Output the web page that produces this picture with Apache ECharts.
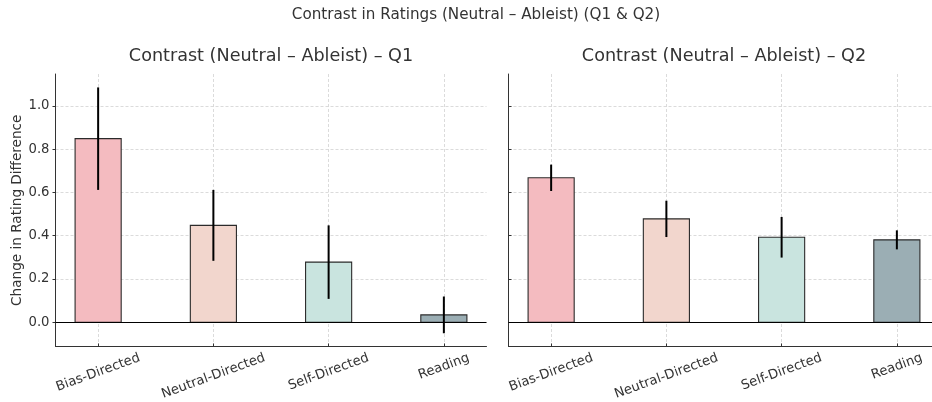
<!DOCTYPE html>
<html>
<head>
<meta charset="utf-8">
<script src="https://cdn.jsdelivr.net/npm/echarts@6/dist/echarts.min.js"></script>
<style>
  html, body { margin: 0; padding: 0; background: #ffffff; }
  #chart { width: 932px; height: 402px; }
</style>
</head>
<body>
<div id="chart"></div>
<script>
// Mean contrast (Neutral – Ableist) per prompt category, with error half-widths
const categories = ['Bias-Directed', 'Neutral-Directed', 'Self-Directed', 'Reading'];
const q1Means  = [0.849, 0.448, 0.278, 0.034];
const q1Errors = [0.237, 0.164, 0.170, 0.085];
const q2Means  = [0.668, 0.478, 0.393, 0.381];
const q2Errors = [0.061, 0.084, 0.094, 0.044];
const yTicks   = [0, 0.2, 0.4, 0.6, 0.8, 1.0];
const barColors = ['#F4BBC0', '#F2D6CD', '#C9E4DF', '#9BAEB4'];

const FONT = 'DejaVu Sans';
const TEXT = '#333333';
const LABEL_SIZE = 13.2;
const BAR_WIDTH = 0.4;
const ROT = 20 * Math.PI / 180;

// x extent of each panel in category units; the right panel runs past the page edge
const X_MIN = -0.37;
const X_MAX = 3.37;
const PANEL_W = 431;
const RIGHT_VISIBLE_W = 932 - 508.5;

// Measure each category label so rotated labels hang below the tick like centred, rotated text
const measureCtx = document.createElement('canvas').getContext('2d');
measureCtx.font = LABEL_SIZE + 'px "' + FONT + '"';
const labelRich = {};
categories.forEach(function (name, i) {
  const w = measureCtx.measureText(name).width;
  const shift = 0.171 * w;                       // vertical drop of the text centre
  labelRich['c' + i] = {
    fontFamily: FONT, fontSize: LABEL_SIZE, color: TEXT,
    padding: [2 * shift * Math.cos(ROT), 2 * shift * Math.sin(ROT), 0, 0]
  };
});

const catIndex = categories.map(function (_, i) { return i; });

function seriesData(means, errors) {
  return means.map(function (m, i) { return [i, m, errors[i]]; });
}

function renderBar(params, api) {
  const i = api.value(0);
  const v = api.value(1);
  const e = api.value(2);
  const a = api.coord([i - BAR_WIDTH / 2, v]);
  const b = api.coord([i + BAR_WIDTH / 2, 0]);
  const hi = api.coord([i, v + e]);
  const lo = api.coord([i, v - e]);
  return {
    type: 'group',
    children: [
      {
        type: 'rect',
        shape: { x: a[0], y: Math.min(a[1], b[1]), width: b[0] - a[0], height: Math.abs(b[1] - a[1]) },
        style: { fill: barColors[i], stroke: '#2b2b2b', lineWidth: 1.1 }
      },
      {
        type: 'line',
        shape: { x1: hi[0], y1: hi[1], x2: lo[0], y2: lo[1] },
        style: { stroke: '#000000', lineWidth: 2 }
      }
    ]
  };
}

const gridLine = { show: true, lineStyle: { type: [3, 2], color: '#d2d2d2', width: 0.8 } };

function xAxisFor(g, max) {
  return {
    type: 'value', gridIndex: g, min: X_MIN, max: max,
    axisLine: { show: true, onZero: false, lineStyle: { color: '#333333', width: 1 } },
    axisTick: { show: true, inside: true, length: 3, customValues: catIndex, lineStyle: { color: '#333333' } },
    axisLabel: {
      show: true, customValues: catIndex, rotate: 20, align: 'center', verticalAlign: 'middle',
      margin: 11, fontFamily: FONT, fontSize: LABEL_SIZE, color: TEXT,
      formatter: function (v) { const i = Math.round(v); return '{c' + i + '|' + categories[i] + '}'; },
      rich: labelRich
    },
    splitLine: gridLine
  };
}

function yAxisFor(g) {
  return {
    type: 'value', gridIndex: g, min: -0.112, max: 1.148,
    axisLine: { show: true, onZero: false, lineStyle: { color: '#333333', width: 1 } },
    axisTick: { show: true, inside: g === 1, length: 3, customValues: yTicks, lineStyle: { color: '#333333' } },
    axisLabel: {
      show: g === 0, customValues: yTicks, margin: 6,
      fontFamily: FONT, fontSize: LABEL_SIZE, color: TEXT,
      formatter: function (v) { return v.toFixed(1); }
    },
    splitLine: gridLine,
    name: g === 0 ? 'Change in Rating Difference' : '',
    nameLocation: 'middle', nameGap: 30,
    nameTextStyle: { fontFamily: FONT, fontSize: 13.6, color: TEXT }
  };
}

function barSeries(g, means, errors) {
  return {
    type: 'custom', xAxisIndex: g, yAxisIndex: g,
    renderItem: renderBar,
    data: seriesData(means, errors),
    encode: { x: 0, y: 1 },
    silent: true,
    markLine: {
      silent: true, symbol: 'none', label: { show: false },
      lineStyle: { color: '#000000', width: 1, type: 'solid' },
      data: [{ yAxis: 0 }]
    }
  };
}

const chart = echarts.init(document.getElementById('chart'), null, { renderer: 'canvas' });
chart.setOption({
  animation: false,
  backgroundColor: '#ffffff',
  grid: [
    { left: 55.5, top: 74, width: PANEL_W, height: 272.5 },
    { left: 508.5, top: 74, width: RIGHT_VISIBLE_W, height: 272.5 }
  ],
  xAxis: [
    xAxisFor(0, X_MAX),
    xAxisFor(1, X_MIN + (X_MAX - X_MIN) * RIGHT_VISIBLE_W / PANEL_W)
  ],
  yAxis: [yAxisFor(0), yAxisFor(1)],
  series: [barSeries(0, q1Means, q1Errors), barSeries(1, q2Means, q2Errors)],
  graphic: [
    { type: 'text', x: 476, y: 15, style: { text: 'Contrast in Ratings (Neutral – Ableist) (Q1 & Q2)', font: '15.2px "' + FONT + '"', fill: TEXT, align: 'center', verticalAlign: 'middle' } },
    { type: 'text', x: 271, y: 56, style: { text: 'Contrast (Neutral – Ableist) – Q1', font: '17.6px "' + FONT + '"', fill: TEXT, align: 'center', verticalAlign: 'middle' } },
    { type: 'text', x: 724, y: 56, style: { text: 'Contrast (Neutral – Ableist) – Q2', font: '17.6px "' + FONT + '"', fill: TEXT, align: 'center', verticalAlign: 'middle' } }
  ]
});
</script>
</body>
</html>
